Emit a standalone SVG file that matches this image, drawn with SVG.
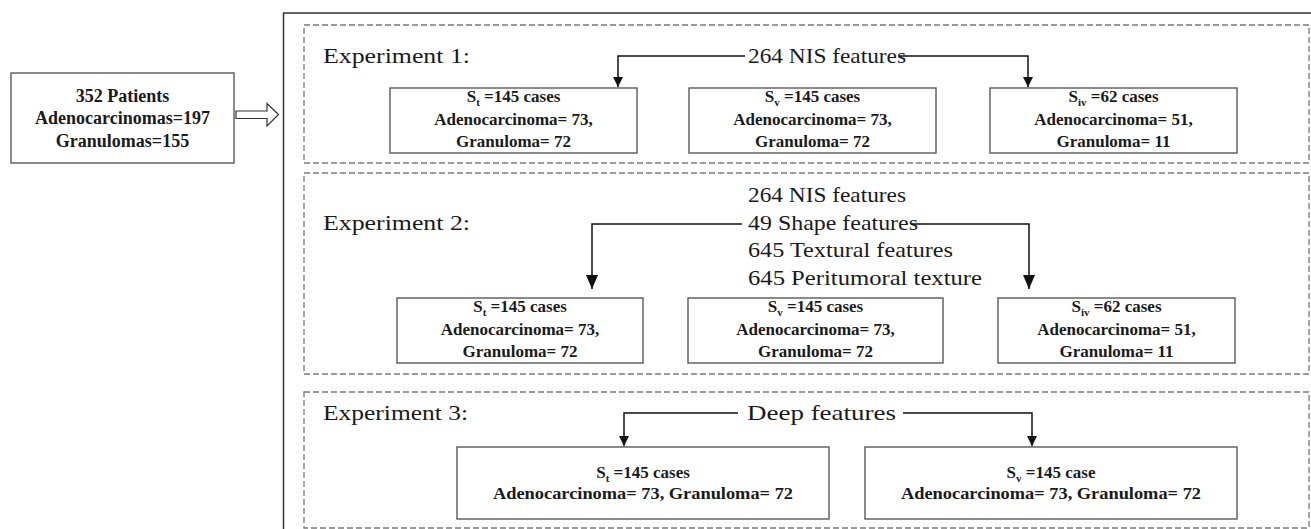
<svg xmlns="http://www.w3.org/2000/svg" width="1311" height="529" viewBox="0 0 1311 529">
  <style>
    .bg { fill: #ffffff; }
    .node { fill: #ffffff; stroke: #5a5a5a; stroke-width: 1.4; }
    .outer { fill: none; stroke: #333333; stroke-width: 1.5; }
    .group { fill: none; stroke: #7a7a7a; stroke-width: 1.3; stroke-dasharray: 6 3; }
    .bt { font-family: "Liberation Serif", "Times New Roman", serif; font-weight: bold; font-size: 17px; fill: #1a1a1a; text-anchor: middle; }
    .bt18 { font-family: "Liberation Serif", "Times New Roman", serif; font-weight: bold; font-size: 18px; fill: #1a1a1a; text-anchor: middle; }
    .lbl { font-family: "Liberation Serif", "Times New Roman", serif; font-size: 22px; fill: #1a1a1a; }
    .sub { font-size: 11px; }
    .conn { fill: none; stroke: #111111; stroke-width: 1.5; }
    .hollow { fill: #ffffff; stroke: #333333; stroke-width: 1.2; }
  </style>
  <defs>
    <marker id="ah" viewBox="0 0 10 10" refX="10" refY="5" markerWidth="10" markerHeight="10" orient="auto" markerUnits="userSpaceOnUse">
      <path d="M0,0 L10,5 L0,10 z" fill="#111111"/>
    </marker>
    <marker id="ahBig" viewBox="0 0 10 10" refX="10" refY="5" markerWidth="14" markerHeight="12" orient="auto" markerUnits="userSpaceOnUse" preserveAspectRatio="none">
      <path d="M0,0 L10,5 L0,10 z" fill="#111111"/>
    </marker>
  </defs>
  <rect class="bg" x="0" y="0" width="1311" height="529"/>

  <!-- Outer container and experiment groups -->
  <rect class="outer" x="283.5" y="13" width="1100" height="600"/>
  <rect class="group" x="304" y="25" width="1005" height="138"/>
  <rect class="group" x="304" y="173" width="1005" height="201"/>
  <rect class="group" x="304" y="392" width="1005" height="136"/>

  <!-- Input node -->
  <g id="patients">
    <rect class="node" x="11" y="73" width="223" height="90"/>
    <text class="bt18" x="122.5" y="102">352 Patients</text>
    <text class="bt18" x="122.5" y="124">Adenocarcinomas=197</text>
    <text class="bt18" x="122.5" y="147">Granulomas=155</text>
  </g>

  <!-- Experiment labels and feature texts -->
  <g id="exp1-label"><text class="lbl" x="323" y="63" textLength="147" lengthAdjust="spacingAndGlyphs">Experiment 1:</text></g>
  <g id="exp1-features"><text class="lbl" x="748" y="63" textLength="158" lengthAdjust="spacingAndGlyphs">264 NIS features</text></g>

  <g id="exp2-label"><text class="lbl" x="323" y="230" textLength="147" lengthAdjust="spacingAndGlyphs">Experiment 2:</text></g>
  <g id="exp2-features">
    <text class="lbl" x="748" y="202" textLength="158" lengthAdjust="spacingAndGlyphs">264 NIS features</text>
    <text class="lbl" x="748" y="229.5" textLength="170" lengthAdjust="spacingAndGlyphs">49 Shape features</text>
    <text class="lbl" x="748" y="257" textLength="205" lengthAdjust="spacingAndGlyphs">645 Textural features</text>
    <text class="lbl" x="748" y="284.5" textLength="234" lengthAdjust="spacingAndGlyphs">645 Peritumoral texture</text>
  </g>

  <g id="exp3-label"><text class="lbl" x="323" y="420" textLength="145" lengthAdjust="spacingAndGlyphs">Experiment 3:</text></g>
  <g id="exp3-features"><text class="lbl" x="747" y="420" textLength="149" lengthAdjust="spacingAndGlyphs">Deep features</text></g>

  <!-- Experiment 1 nodes -->
  <g id="e1-st">
    <rect class="node" x="390" y="88" width="247" height="65"/>
    <text class="bt" x="513.5" y="102">S<tspan class="sub" dy="4">t</tspan><tspan dy="-4"> =145 cases</tspan></text>
    <text class="bt" x="513.5" y="125">Adenocarcinoma= 73,</text>
    <text class="bt" x="513.5" y="147">Granuloma= 72</text>
  </g>
  <g id="e1-sv">
    <rect class="node" x="689" y="88" width="247" height="65"/>
    <text class="bt" x="812.5" y="102">S<tspan class="sub" dy="4">v</tspan><tspan dy="-4"> =145 cases</tspan></text>
    <text class="bt" x="812.5" y="125">Adenocarcinoma= 73,</text>
    <text class="bt" x="812.5" y="147">Granuloma= 72</text>
  </g>
  <g id="e1-siv">
    <rect class="node" x="990" y="88" width="247" height="65"/>
    <text class="bt" x="1113.5" y="102">S<tspan class="sub" dy="4">iv</tspan><tspan dy="-4"> =62 cases</tspan></text>
    <text class="bt" x="1113.5" y="125">Adenocarcinoma= 51,</text>
    <text class="bt" x="1113.5" y="147">Granuloma= 11</text>
  </g>

  <!-- Experiment 2 nodes -->
  <g id="e2-st">
    <rect class="node" x="397" y="298" width="246" height="65"/>
    <text class="bt" x="520" y="312">S<tspan class="sub" dy="4">t</tspan><tspan dy="-4"> =145 cases</tspan></text>
    <text class="bt" x="520" y="335">Adenocarcinoma= 73,</text>
    <text class="bt" x="520" y="357">Granuloma= 72</text>
  </g>
  <g id="e2-sv">
    <rect class="node" x="688" y="298" width="255" height="65"/>
    <text class="bt" x="815.5" y="312">S<tspan class="sub" dy="4">v</tspan><tspan dy="-4"> =145 cases</tspan></text>
    <text class="bt" x="815.5" y="335">Adenocarcinoma= 73,</text>
    <text class="bt" x="815.5" y="357">Granuloma= 72</text>
  </g>
  <g id="e2-siv">
    <rect class="node" x="998" y="298" width="237" height="65"/>
    <text class="bt" x="1116.5" y="312">S<tspan class="sub" dy="4">iv</tspan><tspan dy="-4"> =62 cases</tspan></text>
    <text class="bt" x="1116.5" y="335">Adenocarcinoma= 51,</text>
    <text class="bt" x="1116.5" y="357">Granuloma= 11</text>
  </g>

  <!-- Experiment 3 nodes -->
  <g id="e3-st">
    <rect class="node" x="457" y="447" width="372" height="72"/>
    <text class="bt" x="643" y="478">S<tspan class="sub" dy="4">t</tspan><tspan dy="-4"> =145 cases</tspan></text>
    <text class="bt" x="643" y="499" textLength="300" lengthAdjust="spacingAndGlyphs">Adenocarcinoma= 73, Granuloma= 72</text>
  </g>
  <g id="e3-sv">
    <rect class="node" x="865" y="447" width="372" height="72"/>
    <text class="bt" x="1051" y="478">S<tspan class="sub" dy="4">v</tspan><tspan dy="-4"> =145 case</tspan></text>
    <text class="bt" x="1051" y="499" textLength="300" lengthAdjust="spacingAndGlyphs">Adenocarcinoma= 73, Granuloma= 72</text>
  </g>

  <!-- Connectors -->
  <g id="connectors">
    <polygon class="hollow" points="236,111 267,111 267,103.5 278.5,114.5 267,126 267,118.5 236,118.5"/>
    <path class="conn" d="M745,56 H618 V87" marker-end="url(#ah)"/>
    <path class="conn" d="M900,56 H1028 V87" marker-end="url(#ah)"/>
    <path class="conn" d="M742,224 H592 V289" marker-end="url(#ahBig)"/>
    <path class="conn" d="M912,224 H1029 V289" marker-end="url(#ahBig)"/>
    <path class="conn" d="M738,413 H624 V446" marker-end="url(#ah)"/>
    <path class="conn" d="M903,413 H1032 V446" marker-end="url(#ah)"/>
  </g>
</svg>
